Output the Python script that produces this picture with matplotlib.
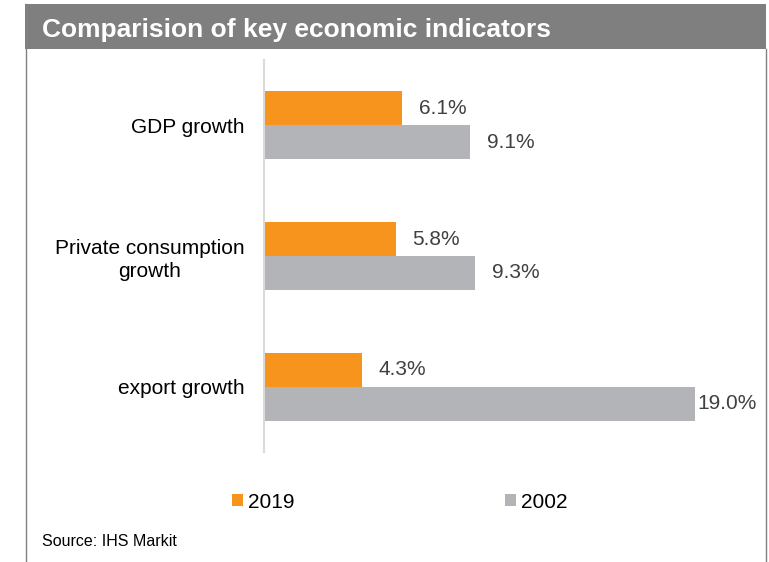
import numpy as np
import matplotlib.pyplot as plt
from matplotlib.patches import Rectangle
from matplotlib.lines import Line2D

plt.rcParams['font.family'] = ['Liberation Sans', 'DejaVu Sans']

# chart data
categories = ['GDP growth', 'Private consumption\ngrowth', 'export growth']
values_2019 = [6.1, 5.8, 4.3]
values_2002 = [9.1, 9.3, 19.0]
series_names = ['2019', '2002']

orange = '#F7941D'
grey = '#B2B4B7'
text_dark = '#404040'

W, H = 769, 562
fig = plt.figure(figsize=(W / 100, H / 100), dpi=100)
fig.patch.set_facecolor('white')

# header band and frame
fig.add_artist(Rectangle((25 / W, 1 - 49 / H), (766 - 25) / W, 45 / H,
                         transform=fig.transFigure, facecolor='#7F7F80',
                         edgecolor='none', zorder=0))
fig.add_artist(Line2D([25.5 / W, 25.5 / W], [0, 1 - 4 / H],
                      transform=fig.transFigure, color='#808080', lw=1.0))
fig.add_artist(Line2D([765.5 / W, 765.5 / W], [0, 1 - 49 / H],
                      transform=fig.transFigure, color='#808080', lw=1.0))
fig.text(42 / W, 1 - 37 / H, 'Comparision of key economic indicators',
         color='white', fontsize=19, fontweight='bold', va='baseline', ha='left')

# plot area
ax = fig.add_axes([264 / W, (H - 452) / H, 453.6 / W, 392 / H])
y = np.arange(len(categories))
bar_h = 0.26
bars_a = ax.barh(y - bar_h / 2, values_2019, height=bar_h, color=orange,
                 label=series_names[0])
bars_b = ax.barh(y + bar_h / 2, values_2002, height=bar_h, color=grey,
                 label=series_names[1])

ax.set_xlim(0, 20)
ax.set_ylim(2.5, -0.5)

# value labels just past the bar end, pulled in when they would run off
pad = 0.75
label_limit = 19.1
for bars, vals in ((bars_a, values_2019), (bars_b, values_2002)):
    for rect, v in zip(bars, vals):
        x = v + pad if v + pad <= label_limit else v + 0.09
        ax.text(x, rect.get_y() + rect.get_height() / 2, f'{v:.1f}%',
                va='center', ha='left', fontsize=15, color=text_dark)

ax.set_yticks(y)
ax.set_yticklabels(categories, fontsize=15, color='black')
for lbl in ax.get_yticklabels():
    lbl.set_multialignment('center')
    lbl.set_linespacing(1.25)
ax.tick_params(axis='y', length=0, pad=14)
ax.set_xticks([])
for side in ('top', 'right', 'bottom'):
    ax.spines[side].set_visible(False)
ax.spines['left'].set_color('#D9D9D9')
ax.spines['left'].set_linewidth(1.5)

fig.legend(handles=[bars_a, bars_b], labels=series_names, loc='center',
           bbox_to_anchor=(400 / W, (H - 502) / H), ncol=2, frameon=False,
           fontsize=15, handlelength=0.53, handleheight=0.48,
           handletextpad=0.25, columnspacing=10.1)

fig.text(42 / W, (H - 546.5) / H, 'Source: IHS Markit', fontsize=11.5,
         color='black', va='baseline', ha='left')

fig.savefig('out.png', dpi=100)
